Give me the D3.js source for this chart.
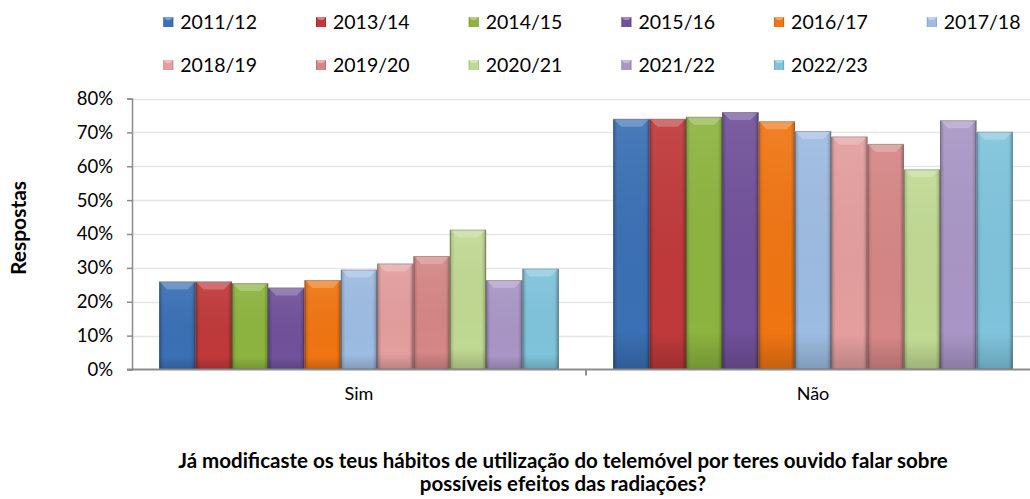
<!DOCTYPE html>
<html>
<head>
<meta charset="utf-8">
<script src="https://cdn.jsdelivr.net/npm/d3@7"></script>
<style>
    body { margin: 0; background: #fff; }
    text { font-family: Lato, "Open Sans", sans-serif; fill: #000; }
</style>
</head>
<body>
<svg id="chart"></svg>
<script>
const categories = ["Sim", "Não"];
const years = ["2011/12", "2013/14", "2014/15", "2015/16", "2016/17", "2017/18",
               "2018/19", "2019/20", "2020/21", "2021/22", "2022/23"];
const simValues = [0.26, 0.26, 0.255, 0.242, 0.264, 0.295, 0.313, 0.335, 0.413, 0.264, 0.298];
const naoValues = [0.74, 0.74, 0.746, 0.76, 0.733, 0.704, 0.688, 0.666, 0.591, 0.736, 0.702];
const yTicks = [0, 0.1, 0.2, 0.3, 0.4, 0.5, 0.6, 0.7, 0.8];
const colors = ["#3a70b5", "#c0393a", "#8db43f", "#71519b", "#f07512", "#9dbce2",
                "#e49e9e", "#d68686", "#c0d992", "#a996c6", "#7fc4dc"];

const width = 1030, height = 499;
const margin = {top: 98.5, left: 132, bottom: 130};

const svg = d3.select("#chart").attr("width", width).attr("height", height);
const defs = svg.append("defs");

// shading so the bars look like the bevelled Excel ones
const side = defs.append("linearGradient").attr("id", "side");
side.append("stop").attr("offset", "0%").attr("stop-color", "#000").attr("stop-opacity", 0.22);
side.append("stop").attr("offset", "12%").attr("stop-color", "#000").attr("stop-opacity", 0.0);
side.append("stop").attr("offset", "88%").attr("stop-color", "#000").attr("stop-opacity", 0.0);
side.append("stop").attr("offset", "100%").attr("stop-color", "#000").attr("stop-opacity", 0.25);
const vert = defs.append("linearGradient").attr("id", "vert")
    .attr("x1", 0).attr("y1", 0).attr("x2", 0).attr("y2", 1);
vert.append("stop").attr("offset", "0%").attr("stop-color", "#fff").attr("stop-opacity", 0.08);
vert.append("stop").attr("offset", "85%").attr("stop-color", "#000").attr("stop-opacity", 0.0);
vert.append("stop").attr("offset", "100%").attr("stop-color", "#000").attr("stop-opacity", 0.18);

const yScale = d3.scaleLinear().domain([0, 0.8]).range([369.5, margin.top]);
const xScale = d3.scaleBand().domain(categories).range([margin.left, 1040]).padding(0);
const inner = d3.scaleBand().domain(years)
    .range([xScale.bandwidth() * 0.06, xScale.bandwidth() * 0.94]).padding(0);

// gridlines
svg.append("g").selectAll("line")
    .data(yTicks.slice(1))
    .join("line")
    .attr("x1", margin.left).attr("x2", width)
    .attr("y1", d => Math.round(yScale(d)) + 0.5).attr("y2", d => Math.round(yScale(d)) + 0.5)
    .attr("stroke", "#e6e6e6").attr("stroke-width", 1.5);

// bars
const rows = [];
categories.forEach((c, ci) => {
    const vals = ci == 0 ? simValues : naoValues;
    years.forEach((y, i) => rows.push({cat: c, year: y, value: vals[i], color: colors[i]}));
});

const bars = svg.append("g").selectAll("g")
    .data(rows)
    .join("g")
    .attr("transform", d => `translate(${xScale(d.cat) + inner(d.year)}, ${yScale(d.value)})`);

const bw = inner.bandwidth();
const bh = d => yScale(0) - yScale(d.value);
const bev = 8;

bars.append("rect").attr("width", bw).attr("height", bh).attr("fill", d => d.color);
bars.append("rect").attr("width", bw).attr("height", bh).attr("fill", "url(#side)");
bars.append("rect").attr("width", bw).attr("height", bh).attr("fill", "url(#vert)");
bars.append("path")
    .attr("d", `M0,0 L${bw},0 L${bw - bev},${bev} L${bev},${bev} Z`)
    .attr("fill", "#fff").attr("fill-opacity", 0.22);
bars.append("path")
    .attr("d", `M0,0 L${bw},0`)
    .attr("stroke", "#fff").attr("stroke-opacity", 0.45).attr("stroke-width", 1.5);
bars.append("rect")
    .attr("x", 0.5).attr("y", 0.5)
    .attr("width", bw - 1).attr("height", d => bh(d) - 1)
    .attr("fill", "none").attr("stroke", "#000").attr("stroke-opacity", 0.25);

// y axis
const yAxis = svg.append("g")
    .attr("transform", `translate(${margin.left}, 0)`)
    .call(d3.axisLeft(yScale).tickValues(yTicks).tickFormat(d3.format(".0%")).tickSize(5).tickPadding(14));
yAxis.selectAll("path, line").attr("stroke", "#8c8c8c").attr("stroke-width", 1.5);
yAxis.selectAll("text").attr("font-size", "18.5px").attr("font-family", "Lato").attr("fill", "#000");

// x axis
svg.append("line")
    .attr("x1", margin.left - 5).attr("x2", width)
    .attr("y1", yScale(0)).attr("y2", yScale(0))
    .attr("stroke", "#8c8c8c").attr("stroke-width", 2);
svg.append("line")
    .attr("x1", xScale("Não")).attr("x2", xScale("Não"))
    .attr("y1", yScale(0)).attr("y2", yScale(0) + 6)
    .attr("stroke", "#8c8c8c").attr("stroke-width", 2);
svg.append("g").selectAll("text")
    .data(categories)
    .join("text")
    .attr("x", d => xScale(d) + xScale.bandwidth() / 2)
    .attr("y", 400)
    .attr("text-anchor", "middle")
    .attr("font-size", "18px")
    .text(d => d);

// axis title
svg.append("text")
    .attr("transform", "translate(26, 228) rotate(-90)")
    .attr("text-anchor", "middle")
    .attr("font-size", "21px")
    .attr("font-weight", "bold")
    .text("Respostas");

// legend
const legend = svg.append("g").selectAll("g")
    .data(years)
    .join("g")
    .attr("transform", (d, i) => `translate(${163.3 + (i % 6) * 152.7}, ${i < 6 ? 17 : 60})`);
legend.append("rect")
    .attr("width", 10).attr("height", 10)
    .attr("fill", (d, i) => colors[i]);
legend.append("rect")
    .attr("width", 10).attr("height", 10)
    .attr("fill", "url(#side)");
legend.append("path")
    .attr("d", "M0,0 L10,0 L7,3 L3,3 Z")
    .attr("fill", "#fff").attr("fill-opacity", 0.35);
legend.append("text")
    .attr("x", 17).attr("y", 12)
    .attr("font-size", "19.5px")
    .text(d => d);

// chart title at the bottom
const title = svg.append("text")
    .attr("x", 563)
    .attr("y", 468)
    .attr("text-anchor", "middle")
    .attr("font-size", "20.5px")
    .attr("font-weight", "bold");
title.append("tspan").attr("x", 563).text("Já modificaste os teus hábitos de utilização do telemóvel por teres ouvido falar sobre");
title.append("tspan").attr("x", 563).attr("dy", 23).text("possíveis efeitos das radiações?");
</script>
</body>
</html>
